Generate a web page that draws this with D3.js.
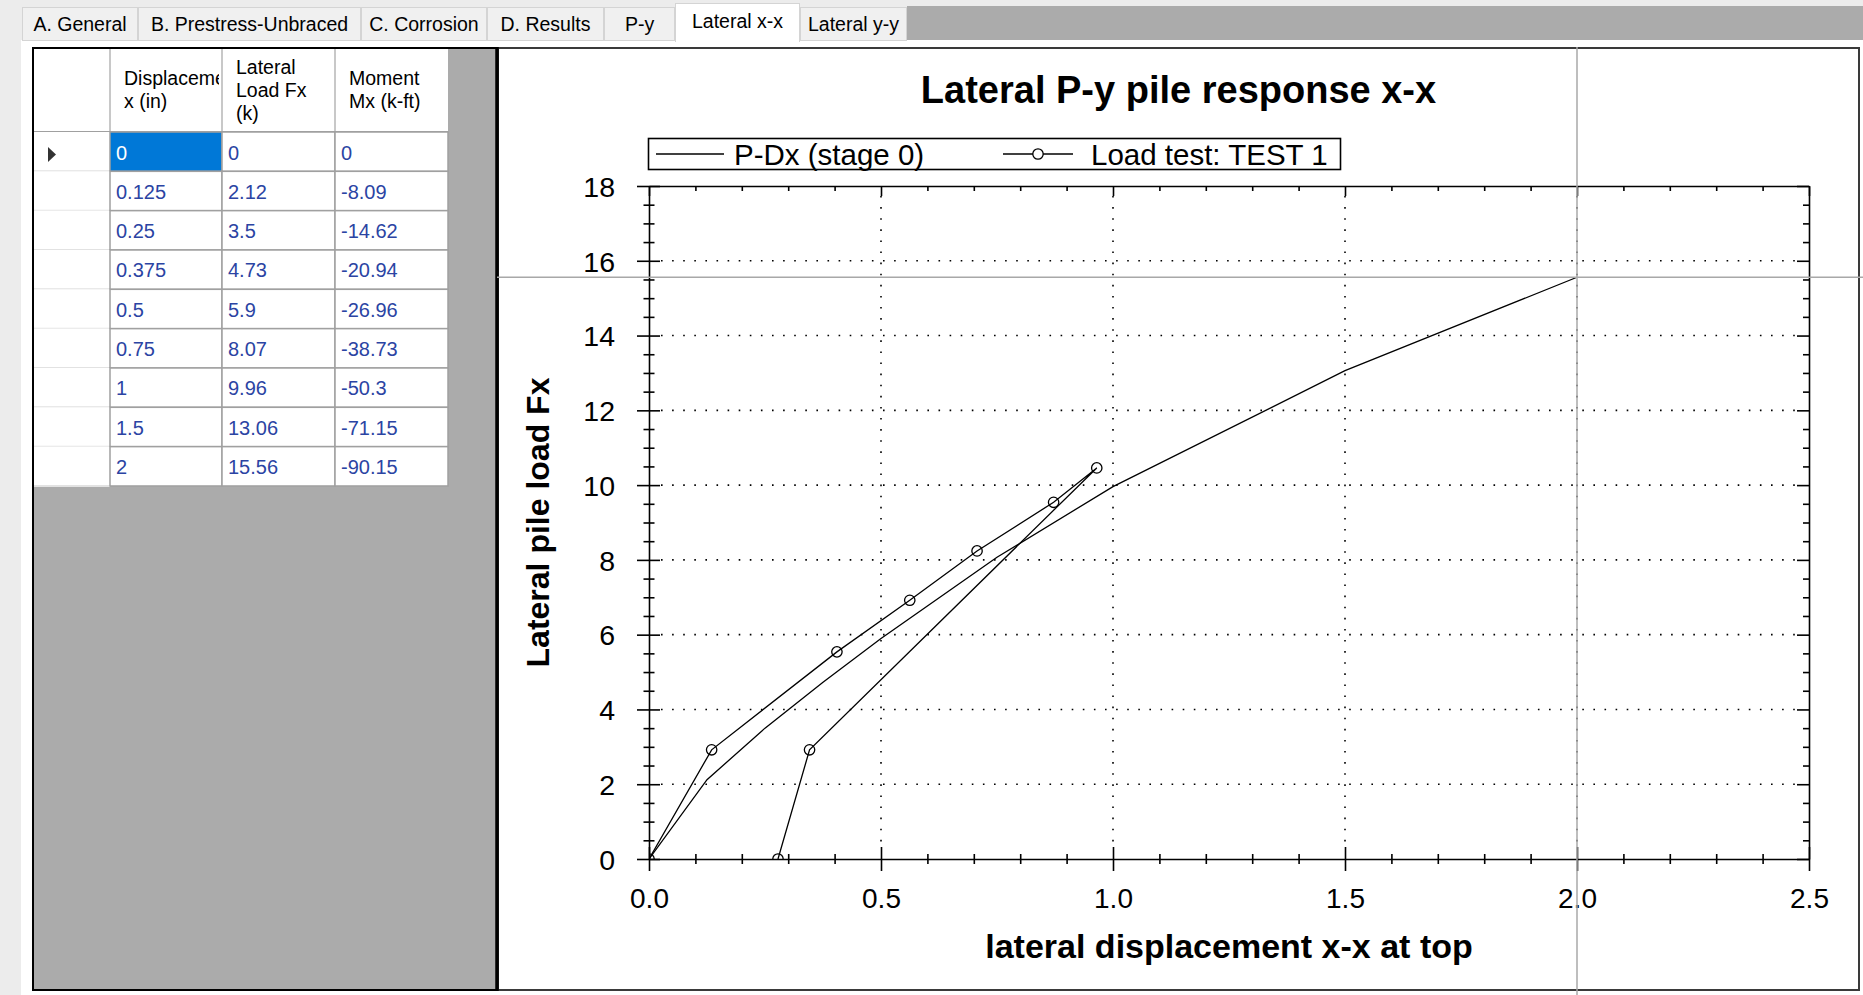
<!DOCTYPE html>
<html><head><meta charset="utf-8">
<script src="https://cdn.jsdelivr.net/npm/d3@7"></script>
<style>
body{margin:0;background:#ececec;overflow:hidden}
svg{display:block;font-family:"Liberation Sans",Arial,sans-serif}
</style>
</head><body>
<svg id="c" width="1863" height="995"></svg>
<script>
// ---------------- DATA ----------------
const tabNames = ["A. General","B. Prestress-Unbraced","C. Corrosion","D. Results","P-y","Lateral x-x","Lateral y-y"];
const selectedTab = "Lateral x-x";
const colHeaders = [["Displacement","x (in)"],["Lateral","Load Fx","(k)"],["Moment","Mx (k-ft)"]];
const displacement = [0,0.125,0.25,0.375,0.5,0.75,1,1.5,2];
const lateralLoad  = [0,2.12,3.5,4.73,5.9,8.07,9.96,13.06,15.56];
const moment       = [0,-8.09,-14.62,-20.94,-26.96,-38.73,-50.3,-71.15,-90.15];
const loadTestX = [0,0.135,0.405,0.562,0.707,0.872,0.965,0.346,0.278];
const loadTestY = [0,2.92,5.54,6.92,8.24,9.54,10.46,2.92,0];
const xTicks = [0,0.5,1.0,1.5,2.0,2.5];
const yTicks = [0,2,4,6,8,10,12,14,16,18];
const chartTitle = "Lateral P-y pile response x-x";
const xTitle = "lateral displacement x-x at top";
const yTitle = "Lateral pile load Fx";
const legendLabels = ["P-Dx (stage 0)","Load test: TEST 1"];
const cursorPoint = [2, 15.56];

// ---------------- LAYOUT ----------------
const W = 1863, H = 995;
const tabEdges = [22,138,361,487,604,675,800,907];
const colEdges = [34,110,222,335,448];
const headTop = 49, headBot = 132, rowH = 39.33;
const plot = {l:649, r:1809, t:186, b:859};

const svg = d3.select("#c");
svg.append("rect").attr("width",W).attr("height",H).attr("fill","#ececec");
svg.append("rect").attr("x",21).attr("y",40).attr("width",W-21).attr("height",H-40).attr("fill","#ffffff");
svg.append("rect").attr("x",907).attr("y",6).attr("width",W-907).attr("height",34).attr("fill","#ababab");

// tabs
const tabG = svg.append("g");
tabNames.forEach((name,i)=>{
  const sel = name===selectedTab;
  const x0 = tabEdges[i], x1 = tabEdges[i+1];
  tabG.append("rect").attr("x",x0+0.5).attr("y",sel?3.5:7.5).attr("width",x1-x0-1).attr("height",sel?38:33)
    .attr("fill",sel?"#ffffff":"#f0f0f0").attr("stroke","#d4d4d4");
  tabG.append("text").attr("x",(x0+x1)/2).attr("y",sel?28:31).attr("text-anchor","middle")
    .attr("font-size",19.5).attr("fill","#000").text(name);
});
{
  const i = tabNames.indexOf(selectedTab);
  svg.append("rect").attr("x",tabEdges[i]+1).attr("y",38).attr("width",tabEdges[i+1]-tabEdges[i]-2).attr("height",4).attr("fill","#fff");
}

// ---------------- TABLE ----------------
svg.append("rect").attr("x",33).attr("y",48).attr("width",465).attr("height",942)
  .attr("fill","#ababab").attr("stroke","#000").attr("stroke-width",2);
const tbl = svg.append("g");
const defs = svg.append("defs");
tbl.append("rect").attr("x",colEdges[0]).attr("y",headTop).attr("width",colEdges[4]-colEdges[0]).attr("height",headBot-headTop).attr("fill","#fff");
colHeaders.forEach((lines,j)=>{
  const x0 = colEdges[j+1], x1 = colEdges[j+2];
  defs.append("clipPath").attr("id","hc"+j).append("rect").attr("x",x0).attr("y",headTop).attr("width",x1-x0-3).attr("height",headBot-headTop);
  const mid = (headTop+headBot)/2 + 6;
  const start = mid - (lines.length-1)*23/2;
  const g = tbl.append("g").attr("clip-path","url(#hc"+j+")");
  lines.forEach((ln,k)=>{
    g.append("text").attr("x",x0+14).attr("y",start+k*23).attr("font-size",19.5).attr("fill","#000").text(ln);
  });
});
colEdges.slice(1,4).forEach(xx=>{
  tbl.append("line").attr("x1",xx).attr("x2",xx).attr("y1",headTop).attr("y2",headBot).attr("stroke","#c8c8c8").attr("stroke-width",2);
});
tbl.append("line").attr("x1",colEdges[0]).attr("x2",colEdges[4]).attr("y1",headBot).attr("y2",headBot).attr("stroke","#a0a0a0").attr("stroke-width",2);

const rows = displacement.map((d,i)=>[d,lateralLoad[i],moment[i]]);
const rowG = tbl.selectAll("g.row").data(rows).join("g").attr("class","row")
  .attr("transform",(d,i)=>`translate(0,${headBot+i*rowH})`);
rowG.append("rect").attr("x",colEdges[0]).attr("y",0).attr("width",colEdges[1]-colEdges[0]).attr("height",rowH).attr("fill","#fff");
rowG.append("line").attr("x1",colEdges[0]).attr("x2",colEdges[1]).attr("y1",rowH).attr("y2",rowH).attr("stroke","#e2e2e2").attr("stroke-width",2);
rowG.each(function(r,i){
  const g = d3.select(this);
  r.forEach((v,j)=>{
    const x0 = colEdges[j+1], x1 = colEdges[j+2];
    const sel = (i===0 && j===0);
    g.append("rect").attr("x",x0).attr("y",0).attr("width",x1-x0).attr("height",rowH)
      .attr("fill",sel?"#0078d7":"#fff").attr("stroke","#a0a0a0").attr("stroke-width",1.5);
    g.append("text").attr("x",x0+6).attr("y",27.5).attr("font-size",20)
      .attr("fill",sel?"#ffffff":"#2b44a3").text(String(v));
  });
  if(i===0){
    g.append("path").attr("d","M48,15 L48,30 L56,22.5 Z").attr("fill","#333");
  }
});

// ---------------- CHART PANEL ----------------
svg.append("rect").attr("x",498).attr("y",48).attr("width",1361).attr("height",942)
  .attr("fill","#fff").attr("stroke","#3a3a3a").attr("stroke-width",2);
svg.append("line").attr("x1",497).attr("x2",497).attr("y1",47).attr("y2",991).attr("stroke","#000").attr("stroke-width",3.5);

const x = d3.scaleLinear().domain([0,2.5]).range([plot.l,plot.r]);
const y = d3.scaleLinear().domain([0,18]).range([plot.b,plot.t]);

const chart = svg.append("g");
chart.append("text").attr("x",(498+1859)/2).attr("y",103).attr("text-anchor","middle")
  .attr("font-size",38).attr("font-weight","bold").text(chartTitle);

// grid
const gridX = xTicks.filter(v=>v>0 && v<2.5), gridY = yTicks.filter(v=>v>0 && v<18);
chart.append("g").selectAll("line").data(gridX).join("line")
  .attr("x1",d=>x(d)).attr("x2",d=>x(d)).attr("y1",plot.t+10).attr("y2",plot.b-10)
  .attr("stroke","#000").attr("stroke-width",1.6).attr("stroke-dasharray","1.6,9.5");
chart.append("g").selectAll("line").data(gridY).join("line")
  .attr("x1",plot.l+12).attr("x2",plot.r-12).attr("y1",d=>y(d)).attr("y2",d=>y(d))
  .attr("stroke","#000").attr("stroke-width",1.6).attr("stroke-dasharray","1.6,9.5");

const xMinor = d3.range(0,26).map(i=>i/10).filter(v=>Math.abs(v*2-Math.round(v*2))>1e-6);
const yMinor = d3.range(0,37).map(i=>i/2).filter(v=>Math.abs(v/2-Math.round(v/2))>1e-6);

function styleAxis(g){
  g.select(".domain").attr("stroke","#000").attr("stroke-width",1.6);
  g.selectAll(".tick line").attr("stroke","#000").attr("stroke-width",1.6);
}
const axB = chart.append("g").attr("transform",`translate(0,${plot.b})`)
  .call(d3.axisBottom(x).tickValues(xTicks).tickFormat(d3.format(".1f")).tickSizeOuter(0));
styleAxis(axB);
axB.selectAll(".tick line").attr("y1",-12).attr("y2",12);
axB.selectAll(".tick text").attr("y",49).attr("dy",0).attr("font-size",28).attr("font-family","Liberation Sans, Arial").attr("fill","#000");
const axBm = chart.append("g").attr("transform",`translate(0,${plot.b})`)
  .call(d3.axisBottom(x).tickValues(xMinor).tickFormat("").tickSizeOuter(0));
styleAxis(axBm); axBm.select(".domain").remove();
axBm.selectAll(".tick line").attr("y1",-5).attr("y2",5);

const axL = chart.append("g").attr("transform",`translate(${plot.l},0)`)
  .call(d3.axisLeft(y).tickValues(yTicks).tickFormat(d3.format("d")).tickSizeOuter(0));
styleAxis(axL);
axL.selectAll(".tick line").attr("x1",-12).attr("x2",11);
axL.selectAll(".tick text").attr("x",-34).attr("dy","0.36em").attr("font-size",28.5).attr("font-family","Liberation Sans, Arial").attr("fill","#000");
const axLm = chart.append("g").attr("transform",`translate(${plot.l},0)`)
  .call(d3.axisLeft(y).tickValues(yMinor).tickFormat("").tickSizeOuter(0));
styleAxis(axLm); axLm.select(".domain").remove();
axLm.selectAll(".tick line").attr("x1",-5.5).attr("x2",5.5);

const axT = chart.append("g").attr("transform",`translate(0,${plot.t})`)
  .call(d3.axisTop(x).tickValues(xTicks).tickFormat("").tickSizeInner(-10).tickSizeOuter(0));
styleAxis(axT);
const axTm = chart.append("g").attr("transform",`translate(0,${plot.t})`)
  .call(d3.axisTop(x).tickValues(xMinor).tickFormat("").tickSizeInner(-5).tickSizeOuter(0));
styleAxis(axTm); axTm.select(".domain").remove();
const axR = chart.append("g").attr("transform",`translate(${plot.r},0)`)
  .call(d3.axisRight(y).tickValues(yTicks).tickFormat("").tickSizeInner(-12).tickSizeOuter(0));
styleAxis(axR);
const axRm = chart.append("g").attr("transform",`translate(${plot.r},0)`)
  .call(d3.axisRight(y).tickValues(yMinor).tickFormat("").tickSizeInner(-6).tickSizeOuter(0));
styleAxis(axRm); axRm.select(".domain").remove();

// axis titles
chart.append("text").attr("x",(plot.l+plot.r)/2).attr("y",958).attr("text-anchor","middle")
  .attr("font-size",34).attr("font-weight","bold").text(xTitle);
chart.append("text").attr("transform",`translate(549,${(plot.t+plot.b)/2}) rotate(-90)`).attr("text-anchor","middle")
  .attr("font-size",32).attr("font-weight","bold").text(yTitle);

// series
defs.append("clipPath").attr("id","plotclip").append("rect")
  .attr("x",plot.l).attr("y",plot.t).attr("width",plot.r-plot.l).attr("height",plot.b-plot.t);
const line = d3.line().x(d=>x(d[0])).y(d=>y(d[1]));
const series = chart.append("g").attr("clip-path","url(#plotclip)");
const pdx = displacement.map((d,i)=>[d,lateralLoad[i]]);
const lt = loadTestX.map((d,i)=>[d,loadTestY[i]]);
series.append("path").attr("d",line(pdx)).attr("fill","none").attr("stroke","#000").attr("stroke-width",1.3);
series.append("path").attr("d",line(lt)).attr("fill","none").attr("stroke","#000").attr("stroke-width",1.3);
series.selectAll("circle").data(lt).join("circle")
  .attr("cx",d=>x(d[0])).attr("cy",d=>y(d[1])).attr("r",5.2)
  .attr("fill","none").attr("stroke","#000").attr("stroke-width",1.3);

// legend
const lg = chart.append("g");
lg.append("rect").attr("x",648.5).attr("y",138.5).attr("width",692).attr("height",31)
  .attr("fill","#fff").attr("stroke","#000").attr("stroke-width",1.6);
lg.append("line").attr("x1",656).attr("x2",724).attr("y1",154).attr("y2",154).attr("stroke","#000").attr("stroke-width",1.3);
lg.append("text").attr("x",734).attr("y",164.5).attr("font-size",29.5).text(legendLabels[0]);
lg.append("line").attr("x1",1003).attr("x2",1073).attr("y1",154).attr("y2",154).attr("stroke","#000").attr("stroke-width",1.3);
lg.append("circle").attr("cx",1038).attr("cy",154).attr("r",5.2).attr("fill","#fff").attr("stroke","#000").attr("stroke-width",1.3);
lg.append("text").attr("x",1091).attr("y",164.5).attr("font-size",29.5).text(legendLabels[1]);

// cursor crosshair
chart.append("line").attr("x1",x(cursorPoint[0])).attr("x2",x(cursorPoint[0])).attr("y1",47).attr("y2",H)
  .attr("stroke","#a8a8a8").attr("stroke-width",1.5);
chart.append("line").attr("x1",497).attr("x2",W).attr("y1",y(cursorPoint[1])).attr("y2",y(cursorPoint[1]))
  .attr("stroke","#a8a8a8").attr("stroke-width",1.5);
</script>
</body></html>
